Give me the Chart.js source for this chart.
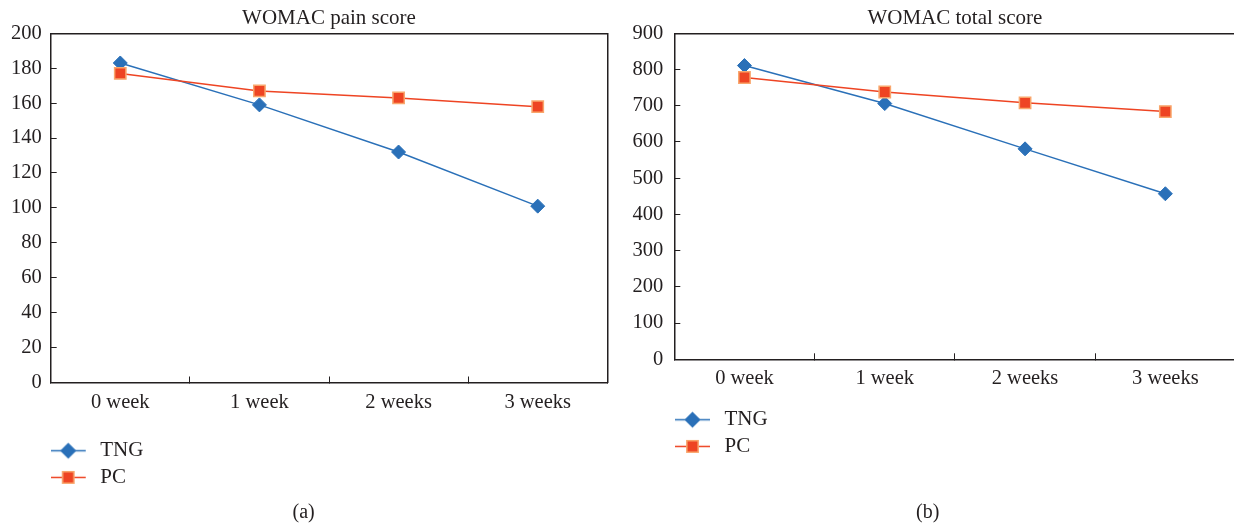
<!DOCTYPE html>
<html>
<head>
<meta charset="utf-8">
<script src="https://cdn.jsdelivr.net/npm/chart.js@4.4.1/dist/chart.umd.min.js"></script>
<style>
  html, body { margin: 0; padding: 0; background: #ffffff; overflow: hidden; width: 1234px; height: 526px; }
  .box { position: absolute; top: 0; width: 620px; height: 526px; }
  #pa { left: 0; }
  #pb { left: 620px; }
</style>
</head>
<body>
<div class="box" id="pa"><canvas id="ca" width="620" height="526"></canvas></div>
<div class="box" id="pb"><canvas id="cb" width="620" height="526"></canvas></div>
<script>
// ---- data ----
const categories = ['0 week', '1 week', '2 weeks', '3 weeks'];
const seriesNames = ['TNG', 'PC'];
const painTNG = [183, 159, 132, 101];
const painPC = [177, 167, 163, 158];
const totalTNG = [811, 706, 581, 457];
const totalPC = [778, 738, 708, 684];
const painAxis = [0, 200, 20];    // min, max, step
const totalAxis = [0, 900, 100];  // min, max, step
const titles = ['WOMAC pain score', 'WOMAC total score'];
const captions = ['(a)', '(b)'];

// ---- styles ----
const INK = '#231F20';
const BLUE = '#2A70B8';
const RED = '#EE4423';
const ORANGE = '#F9A66C';

Chart.defaults.font.family = "'Liberation Serif', 'Times New Roman', serif";
Chart.defaults.color = INK;
Chart.defaults.animation = false;
Chart.defaults.events = [];

function legendIcon(style, radius, fill, stroke, line) {
  const c = document.createElement('canvas');
  c.width = 39; c.height = 21;
  const ctx = c.getContext('2d');
  ctx.strokeStyle = line; ctx.lineWidth = 1.5;
  ctx.beginPath(); ctx.moveTo(0, 10.5); ctx.lineTo(35, 10.5); ctx.stroke();
  ctx.fillStyle = fill; ctx.strokeStyle = stroke; ctx.lineWidth = 1.5;
  if (Chart.helpers && Chart.helpers.drawPoint) {
    Chart.helpers.drawPoint(ctx, { pointStyle: style, radius: radius, borderWidth: 1.5 }, 17.5, 10.5);
  }
  return c;
}

function build(canvasId, cfg) {
  const icons = [
    legendIcon('rectRot', 7, BLUE, BLUE, BLUE),
    legendIcon('rect', 8, RED, ORANGE, RED)
  ];
  return new Chart(document.getElementById(canvasId), {
    type: 'line',
    data: {
      labels: categories,
      datasets: [
        { label: seriesNames[0], data: cfg.tng, borderColor: BLUE, backgroundColor: BLUE, borderWidth: 1.5,
          pointStyle: 'rectRot', pointRadius: 7, pointBackgroundColor: BLUE, pointBorderColor: BLUE,
          pointBorderWidth: 1, tension: 0, clip: false, order: 2 },
        { label: seriesNames[1], data: cfg.pc, borderColor: RED, backgroundColor: RED, borderWidth: 1.5,
          pointStyle: 'rect', pointRadius: 8, pointBackgroundColor: RED, pointBorderColor: ORANGE,
          pointBorderWidth: 1.5, tension: 0, clip: false, order: 1 }
      ]
    },
    options: {
      responsive: false,
      layout: { autoPadding: false, padding: { left: 0, top: 0, right: cfg.padRight, bottom: 0 } },
      scales: {
        x: {
          type: 'category', position: 'bottom', offset: true,
          grid: { offset: true, drawOnChartArea: false, drawTicks: true, tickLength: -6, color: INK, lineWidth: 1 },
          border: { display: true, color: INK, width: 1.5 },
          ticks: { font: { size: 20.5 }, color: INK, padding: cfg.xPad, maxRotation: 0, autoSkip: false },
          afterFit(s) { s.height = cfg.xHeight; }
        },
        x2: {
          type: 'category', axis: 'x', position: 'top',
          grid: { display: false, drawTicks: false },
          border: { display: true, color: INK, width: 1.5 },
          ticks: { display: false },
          afterFit(s) { s.height = 0; }
        },
        y: {
          type: 'linear', position: 'left', min: cfg.axis[0], max: cfg.axis[1],
          ticks: { stepSize: cfg.axis[2], padding: cfg.yPad, font: { size: 20.5 }, color: INK },
          grid: { drawOnChartArea: false, drawTicks: true, tickLength: -6, color: INK, lineWidth: 1 },
          border: { display: true, color: INK, width: 1.5 },
          afterFit(s) { s.width = cfg.yWidth; }
        },
        y2: {
          type: 'linear', axis: 'y', position: 'right',
          grid: { display: false, drawTicks: false },
          border: { display: true, color: INK, width: 1.5 },
          ticks: { display: false },
          afterFit(s) { s.width = 0; }
        }
      },
      plugins: {
        title: { display: true, text: cfg.title, fullSize: false, font: { size: 21, weight: 'normal' }, color: INK,
                 padding: { top: 6, bottom: 2.1 } },
        subtitle: { display: true, text: cfg.caption, position: 'bottom', fullSize: true, font: { size: 20, weight: 'normal' },
                    color: INK, padding: { top: 0, bottom: 1 } },
        legend: {
          display: true, position: 'chartArea', align: 'start',
          labels: {
            usePointStyle: true, pointStyleWidth: 39, padding: 5.7, font: { size: 21 }, color: INK,
            generateLabels(chart) {
              return chart.data.datasets.map((ds, i) => ({
                text: ds.label, pointStyle: icons[i], fillStyle: ds.borderColor, strokeStyle: ds.borderColor,
                lineWidth: 0, hidden: false, datasetIndex: i, fontColor: INK
              }));
            }
          }
        },
        tooltip: { enabled: false }
      }
    },
    plugins: [{
      id: 'legendPlace',
      afterLayout(chart) {
        const l = chart.legend;
        l.left = cfg.legLeft; l.top = cfg.legTop;
        l.width = 200; l.height = 100;
        l.right = l.left + 200; l.bottom = l.top + 100;
      }
    }]
  });
}

build('ca', {
  tng: painTNG, pc: painPC, axis: painAxis, title: titles[0], caption: captions[0],
  padRight: 12.7, yWidth: 50.7, xHeight: 118.5, xPad: 14, yPad: 15,
  legLeft: 45, legTop: 434.5
});
build('cb', {
  tng: totalTNG, pc: totalPC, axis: totalAxis, title: titles[1], caption: captions[1],
  padRight: 4.5, yWidth: 54.3, xHeight: 141.7, xPad: 13, yPad: 17,
  legLeft: 49.3, legTop: 403.5
});
</script>
</body>
</html>
